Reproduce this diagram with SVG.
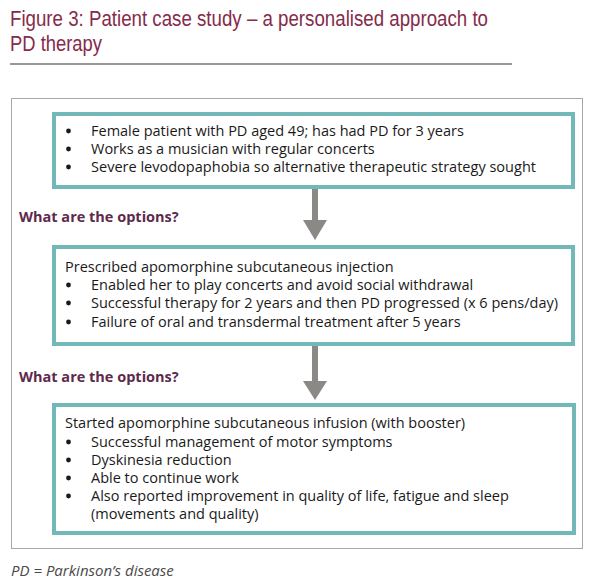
<svg xmlns="http://www.w3.org/2000/svg" width="596" height="586" viewBox="0 0 596 586">
<defs>
<style>
.title{font-family:"Liberation Sans",Arial,sans-serif;font-size:22px;fill:#862b4b}
.t{font-family:"Open Sans","Liberation Sans",sans-serif;font-size:14.5px;fill:#1a1a1a}
.q{font-family:"Open Sans","Liberation Sans",sans-serif;font-size:14.5px;font-weight:bold;fill:#5e2a4c}
.box{fill:#fff;stroke:#72b8b8;stroke-width:4}
.arr{fill:#8a8985}
.b{fill:#1a1a1a}
.foot{font-family:"Open Sans","Liberation Sans",sans-serif;font-size:15px;font-style:italic;fill:#4a4a4a}
</style>
</defs>
<rect width="596" height="586" fill="#fff"/>
<text class="title" x="10" y="26" textLength="478" lengthAdjust="spacingAndGlyphs">Figure 3: Patient case study – a personalised approach to</text>
<text class="title" x="10" y="51" textLength="92" lengthAdjust="spacingAndGlyphs">PD therapy</text>
<line x1="10" y1="64" x2="512" y2="64" stroke="#333" stroke-width="1.2"/>
<rect x="11.5" y="98.5" width="571" height="450" fill="none" stroke="#aaa9a0" stroke-width="1"/>
<g id="connectors">
<g id="arrow1"><rect x="312" y="189" width="6" height="32" class="arr"/><polygon points="303,220 327,220 315,240" class="arr"/></g>
<g id="arrow2"><rect x="312" y="345" width="6" height="38" class="arr"/><polygon points="303,381 327,381 315,400" class="arr"/></g>
</g>
<g id="node1">
<rect class="box" x="54" y="114" width="519" height="73"/>
<circle class="b" cx="68.5" cy="131" r="2.4"/><text class="t" x="91" y="136">Female patient with PD aged 49; has had PD for 3 years</text>
<circle class="b" cx="68.5" cy="149" r="2.4"/><text class="t" x="91" y="154">Works as a musician with regular concerts</text>
<circle class="b" cx="68.5" cy="167" r="2.4"/><text class="t" x="91" y="172" textLength="445" lengthAdjust="spacingAndGlyphs">Severe levodopaphobia so alternative therapeutic strategy sought</text>
</g>
<text class="q" x="19" y="222">What are the options?</text>
<g id="node2">
<rect class="box" x="54" y="247" width="519" height="97"/>
<text class="t" x="65" y="272">Prescribed apomorphine subcutaneous injection</text>
<circle class="b" cx="68.5" cy="285" r="2.4"/><text class="t" x="91" y="290">Enabled her to play concerts and avoid social withdrawal</text>
<circle class="b" cx="68.5" cy="303" r="2.4"/><text class="t" x="91" y="308" textLength="467" lengthAdjust="spacingAndGlyphs">Successful therapy for 2 years and then PD progressed (x 6 pens/day)</text>
<circle class="b" cx="68.5" cy="322" r="2.4"/><text class="t" x="91" y="327">Failure of oral and transdermal treatment after 5 years</text>
</g>
<text class="q" x="19" y="382">What are the options?</text>
<g id="node3">
<rect class="box" x="54" y="405" width="520" height="128"/>
<text class="t" x="65" y="428">Started apomorphine subcutaneous infusion (with booster)</text>
<circle class="b" cx="68.5" cy="442" r="2.4"/><text class="t" x="91" y="447">Successful management of motor symptoms</text>
<circle class="b" cx="68.5" cy="460" r="2.4"/><text class="t" x="91" y="465">Dyskinesia reduction</text>
<circle class="b" cx="68.5" cy="478" r="2.4"/><text class="t" x="91" y="483">Able to continue work</text>
<circle class="b" cx="68.5" cy="496" r="2.4"/><text class="t" x="91" y="501">Also reported improvement in quality of life, fatigue and sleep</text>
<text class="t" x="91" y="519">(movements and quality)</text>
</g>
<text class="foot" x="11" y="576">PD = Parkinson’s disease</text>
</svg>
